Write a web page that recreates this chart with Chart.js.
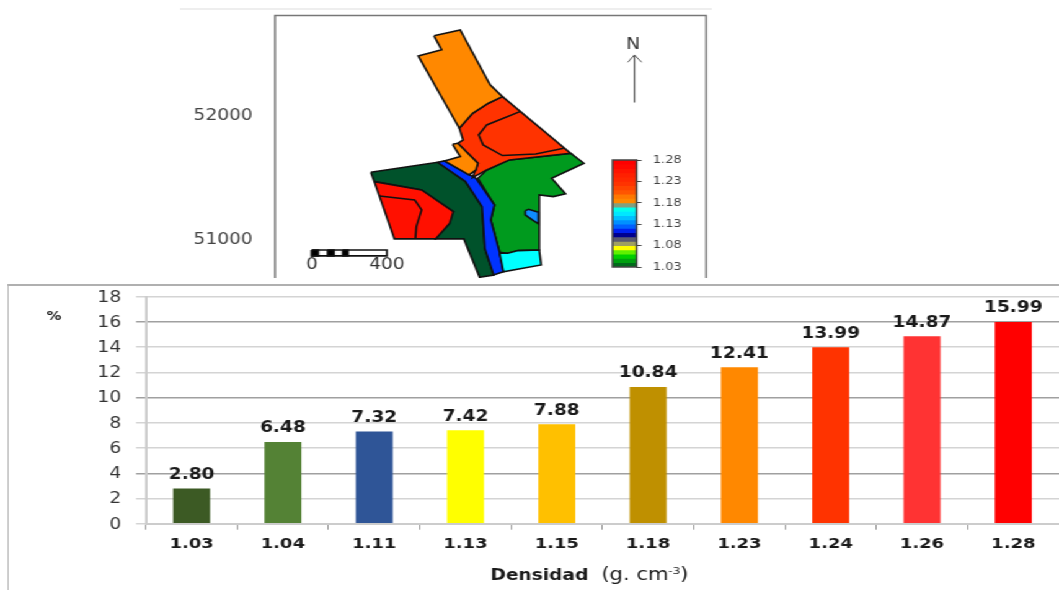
<!DOCTYPE html>
<html>
<head>
<meta charset="utf-8">
<script src="https://cdn.jsdelivr.net/npm/chart.js@4"></script>
<style>
  html, body { margin: 0; padding: 0; background: #fff; overflow: hidden; }
  /* la figura original esta estirada en horizontal */
  #lienzo { position: relative; width: 854px; height: 590px; transform: scaleX(1.24); transform-origin: 0 0; }
  #lienzo canvas { position: absolute; }
  #lineaSup { position: absolute; left: 145px; top: 8px; width: 429px; height: 2px; background: #eee; }
  #caja { position: absolute; left: 6px; top: 284px; width: 848px; height: 306px; border-left: 1.5px solid #b0b0b0; border-top: 2px solid #b0b0b0; box-sizing: border-box; }
</style>
</head>
<body>
<div id="lienzo">
  <div id="lineaSup"></div>
  <canvas id="mapa" width="854" height="282" style="left:0;top:0"></canvas>
  <canvas id="escala" width="100" height="125" style="left:480px;top:150px"></canvas>
  <div id="caja"></div>
  <canvas id="barras" width="854" height="306" style="left:0;top:284px"></canvas>
</div>
<script>
// barras
const densidades = ['1.03', '1.04', '1.11', '1.13', '1.15', '1.18', '1.23', '1.24', '1.26', '1.28']
const porcentajes = [2.80, 6.48, 7.32, 7.42, 7.88, 10.84, 12.41, 13.99, 14.87, 15.99]
const coloresBarras = ['#3c5a24', '#548235', '#2f5597', '#ffff00', '#ffc000', '#bf9000', '#ff8800', '#ff3300', '#ff3333', '#ff0000']
const gridOscuras = [16, 10, 4]

// mapa: [este, norte]
const zonaNaranjaNorte = [[651,52629],[791,52677],[950,52234],[1016,52139],[941,52086],[857,52005],[786,51884],[567,52467],[692,52516],[651,52629]]
const zonaRojoNaranja = [[1016,52139],[1380,51682],[1053,51629],[932,51548],[857,51486],[885,51602],[778,51763],[806,51790],[786,51884],[857,52005],[941,52086],[1016,52139]]
const zonaNaranjaSur = [[750,51755],[778,51763],[885,51602],[875,51548],[838,51508],[707,51621],[791,51656],[750,51755]]
const zonaVerde = [[1380,51682],[1450,51602],[1278,51481],[1352,51355],[1287,51333],[1212,51346],[1212,50903],[1100,50898],[1044,50876],[1001,50884],[978,51010],[954,51145],[973,51266],[885,51481],[932,51548],[1053,51629],[1380,51682]]
const zonaAzul = [[670,51610],[707,51621],[875,51481],[973,51266],[954,51145],[978,51010],[1001,50884],[1021,50728],[969,50701],[922,50916],[907,51252],[819,51454],[670,51610]]
const zonaVerdeOscuro = [[314,51529],[670,51610],[819,51454],[907,51252],[922,50916],[969,50701],[894,50683],[810,50992],[660,50992],[754,51212],[585,51387],[333,51454],[314,51529]]
const zonaRoja = [[333,51454],[585,51387],[754,51212],[735,51118],[660,50992],[440,50992],[333,51454]]
const zonaCian = [[1001,50876],[1044,50876],[1100,50898],[1212,50903],[1222,50782],[1021,50728],[1001,50876]]
const zonaCeleste = [[1137,51220],[1156,51231],[1208,51207],[1208,51113],[1175,51145],[1137,51185],[1137,51220]]
const lineaInternaNaranja = [[1109,52018],[932,51911],[889,51830],[913,51750],[1016,51664],[1193,51677],[1343,51723]]
const lineaInternaRoja = [[361,51338],[548,51306],[585,51226],[557,51091],[552,50992]]
const flechaAsta = [[1719,52475],[1719,52091]]
const flechaPunta = [[1684,52416],[1719,52475],[1758,52416]]
const barraEscala = [[0,50903],[400,50903],[400,50855],[0,50855],[0,50903]]
const barraNegra1 = [[0,50903],[34,50903],[34,50855],[0,50855],[0,50903]]
const barraNegra2 = [[84,50903],[118,50903],[118,50855],[84,50855],[84,50903]]
const barraNegra3 = [[165,50903],[193,50903],[193,50855],[165,50855],[165,50903]]
const ticksNorte = [51000, 52000]

// escala de color
const nivelesColor = [1.03,1.04,1.05,1.06,1.07,1.08,1.09,1.10,1.11,1.12,1.13,1.14,1.15,1.16,1.17,1.18,1.19,1.20,1.21,1.22,1.23,1.24,1.25,1.26,1.27]
const coloresNivel = ['#006b1a','#00a010','#00d000','#60f000','#ffff00','#a0a060','#5a5a70','#000090','#0020f0','#0060ff','#0090ff','#00c0ff','#00e8ff','#00ffee','#80a080','#ff8800','#ff7700','#ff5500','#ff4400','#ff3300','#ff2800','#ff2000','#ff1400','#ff0800','#ff0000']
const ticksEscala = [1.03, 1.08, 1.13, 1.18, 1.23, 1.28]

Chart.defaults.font.family = '"DejaVu Sans"'
Chart.defaults.animation = false

function zona(puntos, color) {
  return {
    data: puntos.map(p => ({ x: p[0], y: p[1] })),
    showLine: true,
    pointRadius: 0,
    borderColor: '#111',
    borderWidth: 1.6,
    backgroundColor: color,
    fill: color ? 'shape' : false
  }
}

function trazo(puntos, color, ancho) {
  return { data: puntos.map(p => ({ x: p[0], y: p[1] })), showLine: true, pointRadius: 0, borderColor: color, borderWidth: ancho, fill: false }
}

// ancho fijo del eje y sin el relleno que chart.js reserva para las etiquetas
function ajustarEjeY(ancho) {
  return s => {
    s.width = ancho
    s.paddingTop = 0
    s.paddingBottom = 0
  }
}

// etiquetas del mapa y marco abierto por abajo
const plugMapa = {
  id: 'plugMapa',
  afterDraw(chart) {
    const { ctx, chartArea: a, scales: { x, y } } = chart
    ctx.save()
    ctx.strokeStyle = '#777'
    ctx.lineWidth = 1.5
    ctx.beginPath()
    ctx.moveTo(a.left, a.bottom)
    ctx.lineTo(a.left, a.top)
    ctx.lineTo(a.right, a.top)
    ctx.lineTo(a.right, a.bottom)
    ctx.stroke()
    ctx.fillStyle = '#333'
    ctx.textAlign = 'center'
    ctx.textBaseline = 'middle'
    ctx.font = '15px "DejaVu Sans"'
    ctx.fillText('N', x.getPixelForValue(1713), y.getPixelForValue(52561) + 1)
    ctx.fillText('0', x.getPixelForValue(0), y.getPixelForValue(50782))
    ctx.fillText('400', x.getPixelForValue(400), y.getPixelForValue(50782))
    ctx.restore()
  }
}

new Chart(document.querySelector('#mapa'), {
  type: 'scatter',
  data: {
    datasets: [
      trazo(flechaAsta, '#555', 1.2),
      trazo(flechaPunta, '#555', 1),
      zona(barraNegra1, '#000'),
      zona(barraNegra2, '#000'),
      zona(barraNegra3, '#000'),
      zona(barraEscala, '#fff'),
      zona(lineaInternaNaranja, null),
      zona(lineaInternaRoja, null),
      zona(zonaCeleste, '#0f8cff'),
      zona(zonaCian, '#00ffff'),
      zona(zonaNaranjaSur, '#ff8800'),
      zona(zonaNaranjaNorte, '#ff8800'),
      zona(zonaRojoNaranja, '#ff3300'),
      zona(zonaRoja, '#ff1000'),
      zona(zonaAzul, '#0033ff'),
      zona(zonaVerde, '#009a1e'),
      zona(zonaVerdeOscuro, '#00522b')
    ]
  },
  options: {
    responsive: false,
    layout: { padding: { right: 284.6, top: 15.5, bottom: 4 } },
    plugins: { legend: { display: false }, tooltip: { enabled: false } },
    scales: {
      x: { type: 'linear', min: -196, max: 2101, display: false },
      y: {
        min: 50677,
        max: 52793,
        grid: { display: false, drawTicks: false },
        border: { display: false },
        afterBuildTicks(s) { s.ticks = ticksNorte.map(v => ({ value: v })) },
        afterFit: ajustarEjeY(221.8),
        ticks: { autoSkip: false, padding: 18, labelOffset: 2, color: '#444', font: { size: 15 }, callback: v => String(v) }
      }
    }
  },
  plugins: [plugMapa]
})

const plugBordeEscala = {
  id: 'plugBordeEscala',
  afterDraw(chart) {
    const { ctx, chartArea: a } = chart
    ctx.save()
    ctx.strokeStyle = '#444'
    ctx.lineWidth = 1.5
    ctx.strokeRect(a.left, a.top, a.right - a.left, a.bottom - a.top)
    ctx.restore()
  }
}

// cada banda llega hasta arriba y la siguiente la tapa, asi no quedan rendijas
new Chart(document.querySelector('#escala'), {
  type: 'bar',
  data: {
    labels: ['densidad'],
    datasets: coloresNivel.map((c, i) => ({
      data: [[nivelesColor[i] ?? 1.27, 1.28]],
      backgroundColor: c,
      order: -i,
      grouped: false,
      barPercentage: 1,
      categoryPercentage: 1
    }))
  },
  options: {
    responsive: false,
    layout: { padding: { left: 14, top: 10, bottom: 8 } },
    plugins: { legend: { display: false }, tooltip: { enabled: false } },
    scales: {
      x: { display: false },
      y: {
        position: 'right',
        min: 1.03,
        max: 1.28,
        grid: { drawOnChartArea: false, tickLength: 4, color: '#444' },
        border: { display: false },
        afterBuildTicks(s) { s.ticks = ticksEscala.map(v => ({ value: v })) },
        afterFit: ajustarEjeY(66.6),
        ticks: { autoSkip: false, padding: 9, color: '#444', font: { size: 10.5 }, callback: v => v.toFixed(2) }
      }
    }
  },
  plugins: [plugBordeEscala]
})

// valores sobre cada barra, % y titulo del eje x con dos pesos de letra
const plugTextos = {
  id: 'plugTextos',
  afterDatasetsDraw(chart) {
    const { ctx } = chart
    ctx.save()
    ctx.fillStyle = '#1a1a1a'
    ctx.textAlign = 'center'
    ctx.textBaseline = 'middle'
    ctx.font = 'bold 15px "DejaVu Sans"'
    chart.getDatasetMeta(0).data.forEach((barra, i) => {
      ctx.fillText(porcentajes[i].toFixed(2), barra.x, barra.y - 13.5)
    })
    ctx.font = 'bold 12px "DejaVu Sans"'
    ctx.fillText('%', 43.5, 32.5)

    let x = 395.5
    const y = 296
    ctx.textAlign = 'left'
    ctx.textBaseline = 'alphabetic'
    ctx.font = 'bold 15px "DejaVu Sans"'
    ctx.fillText('Densidad', x, y)
    x += ctx.measureText('Densidad').width + 10.5
    ctx.font = '17px "DejaVu Sans"'
    ctx.fillText('(g. cm', x, y)
    x += ctx.measureText('(g. cm').width
    ctx.font = '9.5px "DejaVu Sans"'
    ctx.fillText('-3', x, y - 6)
    x += ctx.measureText('-3').width
    ctx.font = '17px "DejaVu Sans"'
    ctx.fillText(')', x, y)
    ctx.restore()
  }
}

new Chart(document.querySelector('#barras'), {
  type: 'bar',
  data: {
    labels: densidades,
    datasets: [{
      data: porcentajes,
      backgroundColor: coloresBarras,
      barPercentage: 0.405,
      categoryPercentage: 1
    }]
  },
  options: {
    responsive: false,
    layout: { padding: { top: 12.7 } },
    plugins: { legend: { display: false }, tooltip: { enabled: false } },
    scales: {
      x: {
        grid: { offset: true, drawOnChartArea: false, tickLength: 6, color: '#999' },
        border: { color: '#ccc', width: 2 },
        afterFit(s) { s.height = 66.3 },
        ticks: { padding: 6, color: '#1a1a1a', font: { size: 14.5, weight: 'bold' } }
      },
      y: {
        min: 0,
        max: 18,
        afterFit: ajustarEjeY(117.7),
        grid: {
          tickLength: 8,
          lineWidth: 1.5,
          color: c => gridOscuras.includes(c.tick.value) ? '#a0a0a0' : '#d4d4d4'
        },
        border: { color: '#ccc', width: 2 },
        ticks: { stepSize: 2, padding: 12, labelOffset: 1, color: '#333', font: { size: 15 } }
      }
    }
  },
  plugins: [plugTextos]
})
</script>
</body>
</html>
